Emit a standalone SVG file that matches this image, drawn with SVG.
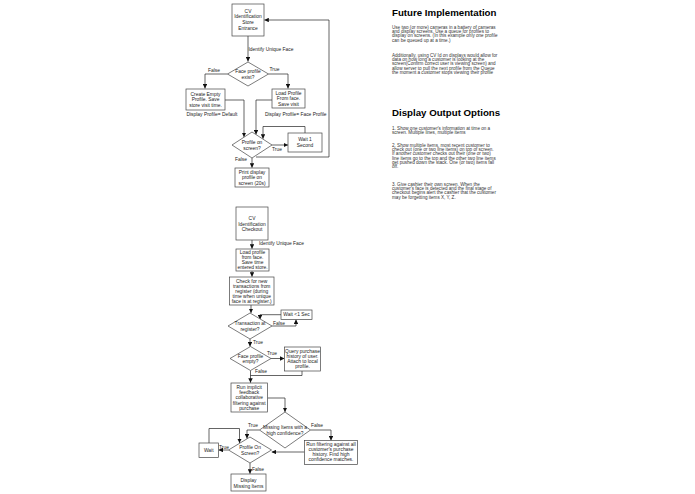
<svg xmlns="http://www.w3.org/2000/svg" width="695" height="494" viewBox="0 0 695 494">
<defs>
<marker id="ah" viewBox="0 0 6 6" refX="6" refY="3" markerWidth="4.5" markerHeight="4.5" orient="auto" markerUnits="userSpaceOnUse">
<path d="M0,0 L6,3 L0,6 Z" fill="#111"/>
</marker>
<style>
.n rect,.n polygon{fill:#fff;stroke:#444;stroke-width:0.7}
.c path{fill:none;stroke:#222;stroke-width:0.7}
.c path.a{marker-end:url(#ah)}
text{font-family:"Liberation Sans",Arial,sans-serif;fill:#222}
.t{font-size:4.9px;text-anchor:middle}
.l{font-size:4.9px}
.lm{font-size:4.9px;text-anchor:middle}
.h{font-size:9.7px;font-weight:bold;fill:#000}
.p{font-size:4.6px;fill:#333}
</style>
</defs>
<rect width="695" height="494" fill="#fff"/>

<g id="connectors" class="c">
<path class="a" d="M248,36 V61.5"/>
<path class="a" d="M227.5,74 H205 V88.5"/>
<path class="a" d="M268.5,74 H288 V88.5"/>
<path class="a" d="M225,100 H244 V137"/>
<path class="a" d="M272,100 H256 V134.5"/>
<path class="a" d="M305,133 V126.5 H263 V138.8"/>
<path class="a" d="M272,145 H288"/>
<path class="a" d="M256,157 H329 V20 H264.3"/>
<path class="a" d="M252,158 V167.7"/>
<path class="a" d="M252,240 V248.7"/>
<path class="a" d="M252,271 V276.7"/>
<path class="a" d="M251,305 V313"/>
<path class="a" d="M272,326 H296 V319.5"/>
<path class="a" d="M281,314.7 H260 V319.5"/>
<path class="a" d="M250,339 V346.5"/>
<path class="a" d="M271,358.5 H284.3"/>
<path d="M302,371 V375.5 H250.5"/>
<path class="a" d="M250.5,370.5 V382.8"/>
<path class="a" d="M267.5,398 H285 V412"/>
<path class="a" d="M310.5,430 H331 V440.5"/>
<path class="a" d="M259.5,430 H247 V438.6"/>
<path class="a" d="M304.5,452 H271.7"/>
<path class="a" d="M228.5,450 H218.5"/>
<path class="a" d="M209,443 V428.5 H239.5 V443"/>
<path class="a" d="M250,463 V473.8"/>
</g>

<g id="labels">
<text class="l" x="248.5" y="50.8">Identify Unique Face</text>
<text class="lm" x="214" y="71.7">False</text>
<text class="lm" x="274.5" y="71.2">True</text>
<text class="l" x="186.5" y="115.7">Display Profile= Default</text>
<text class="l" x="265" y="115.7">Display Profile= Face Profile</text>
<text class="lm" x="277" y="151">True</text>
<text class="lm" x="241" y="161.4">False</text>
<text class="l" x="259" y="245">Identify Unique Face</text>
<text class="l" x="273" y="324.5">False</text>
<text class="l" x="253" y="344.4">True</text>
<text class="l" x="267" y="355">True</text>
<text class="l" x="255" y="372.7">False</text>
<text class="l" x="311" y="426.7">False</text>
<text class="l" x="248" y="427.4">True</text>
<text class="l" x="219" y="448.7">True</text>
<text class="l" x="252" y="471">False</text>
</g>

<g id="n-entrance" class="n">
<rect x="232" y="4" width="32" height="32"/>
<text class="t" x="248" y="12.7">CV</text>
<text class="t" x="248" y="18.3">Identification</text>
<text class="t" x="248" y="23.9">Store</text>
<text class="t" x="248" y="29.5">Entrance</text>
</g>
<g id="n-face-exist" class="n">
<polygon points="248,62 268.5,74 248,86 227.5,74"/>
<text class="t" x="248" y="72.5">Face profile</text>
<text class="t" x="248" y="78.8">exist?</text>
</g>
<g id="n-create-empty" class="n">
<rect x="186" y="89" width="39" height="21"/>
<text class="t" x="205.5" y="95.6">Create Empty</text>
<text class="t" x="205.5" y="101.4">Profile. Save</text>
<text class="t" x="205.5" y="107.2">store visit time.</text>
</g>
<g id="n-load-profile" class="n">
<rect x="272" y="89" width="33" height="19"/>
<text class="t" x="288.5" y="94.9">Load Profile</text>
<text class="t" x="288.5" y="100.2">From face.</text>
<text class="t" x="288.5" y="105.5">Save visit</text>
</g>
<g id="n-profile-on-screen" class="n">
<polygon points="252,132 272,145 252,158 232,145"/>
<text class="t" x="252" y="143.8">Profile on</text>
<text class="t" x="252" y="149.5">screen?</text>
</g>
<g id="n-wait-1" class="n">
<rect x="288" y="133" width="34" height="19"/>
<text class="t" x="305" y="141.2">Wait 1</text>
<text class="t" x="305" y="147.2">Second</text>
</g>
<g id="n-print" class="n">
<rect x="235" y="168" width="34" height="19"/>
<text class="t" x="252" y="173.7">Print display</text>
<text class="t" x="252" y="179.2">profile on</text>
<text class="t" x="252" y="184.7">screen (20s)</text>
</g>

<g id="n-checkout" class="n">
<rect x="236" y="207" width="32" height="33"/>
<text class="t" x="252" y="219.7">CV</text>
<text class="t" x="252" y="225.5">Identification</text>
<text class="t" x="252" y="231.3">Checkout</text>
</g>
<g id="n-load-profile-2" class="n">
<rect x="236" y="249" width="33" height="22"/>
<text class="t" x="252.5" y="253.6">Load profile</text>
<text class="t" x="252.5" y="258.7">from face.</text>
<text class="t" x="252.5" y="263.8">Save time</text>
<text class="t" x="252.5" y="268.9">entered store.</text>
</g>
<g id="n-check" class="n">
<rect x="229.5" y="277" width="44.5" height="28"/>
<text class="t" x="251.7" y="282.9">Check for new</text>
<text class="t" x="251.7" y="288">transactions from</text>
<text class="t" x="251.7" y="293.1">register (during</text>
<text class="t" x="251.7" y="298.2">time when unique</text>
<text class="t" x="251.7" y="303.3">face is at register.)</text>
</g>
<g id="n-transaction" class="n">
<polygon points="250,313 272,326 250,339 228,326"/>
<text class="t" x="250" y="325.2">Transaction at</text>
<text class="t" x="250" y="331.2">register?</text>
</g>
<g id="n-wait-sec" class="n">
<rect x="281" y="310" width="31" height="9.5"/>
<text class="t" x="296.5" y="316.4">Wait &lt;1 Sec</text>
</g>
<g id="n-face-empty" class="n">
<polygon points="250.5,346.5 271,358.5 250.5,370.5 230,358.5"/>
<text class="t" x="250.5" y="357.7">Face profile</text>
<text class="t" x="250.5" y="363.4">empty?</text>
</g>
<g id="n-query" class="n">
<rect x="284.5" y="347" width="36" height="24"/>
<text class="t" x="302.5" y="352.6">Query purchase</text>
<text class="t" x="302.5" y="357.7">history of user.</text>
<text class="t" x="302.5" y="362.8">Attach to local</text>
<text class="t" x="302.5" y="367.9">profile.</text>
</g>
<g id="n-run-implicit" class="n">
<rect x="231" y="383" width="36.5" height="29"/>
<text class="t" x="249.2" y="388.6">Run implicit</text>
<text class="t" x="249.2" y="393.9">feedback</text>
<text class="t" x="249.2" y="399.2">collaborative</text>
<text class="t" x="249.2" y="404.5">filtering against</text>
<text class="t" x="249.2" y="409.8">purchase</text>
</g>
<g id="n-missing" class="n">
<polygon points="285,412 310.5,430 285,448 259.5,430"/>
<text class="t" x="285" y="429">Missing Items with a</text>
<text class="t" x="285" y="435">high confidence?</text>
</g>
<g id="n-run-filtering" class="n">
<rect x="304.5" y="440.5" width="53" height="24"/>
<text class="t" x="331" y="445.7">Run filtering against all</text>
<text class="t" x="331" y="450.8">customer's purchase</text>
<text class="t" x="331" y="455.9">history. Find high</text>
<text class="t" x="331" y="461">confidence matches.</text>
</g>
<g id="n-profile-on-screen-2" class="n">
<polygon points="250,437 271.5,450 250,463 228.5,450"/>
<text class="t" x="250" y="449.2">Profile On</text>
<text class="t" x="250" y="455">Screen?</text>
</g>
<g id="n-wait" class="n">
<rect x="199" y="443" width="19.5" height="14.5"/>
<text class="t" x="208.7" y="452">Wait</text>
</g>
<g id="n-display-missing" class="n">
<rect x="231" y="474" width="35" height="17"/>
<text class="t" x="248.5" y="481.7">Display</text>
<text class="t" x="248.5" y="487.7">Missing Items</text>
</g>

<g id="notes">
<text class="h" x="392" y="15.5">Future Implementation</text>
<text class="p" x="392" y="28.6">Use two (or more) cameras in a battery of cameras</text>
<text class="p" x="392" y="32.9">and display screens. Use a queue for profiles to</text>
<text class="p" x="392" y="37.2">display on screens. (In this example only one profile</text>
<text class="p" x="392" y="41.5">can be queued up at a time.)</text>
<text class="p" x="392" y="56.6">Additionally, using CV Id on displays would allow for</text>
<text class="p" x="392" y="60.9">data on how long a customer is looking at the</text>
<text class="p" x="392" y="65.2">screen(Confirm correct user is viewing screen) and</text>
<text class="p" x="392" y="69.5">allow server to pull the next profile from the Queue</text>
<text class="p" x="392" y="73.8">the moment a customer stops viewing their profile</text>
<text class="h" x="392" y="115.5">Display Output Options</text>
<text class="p" x="392" y="129.6">1. Show one customer's information at time on a</text>
<text class="p" x="392" y="133.9">screen. Multiple lines, multiple items</text>
<text class="p" x="392" y="146.6">2. Show multiple items, most recent customer to</text>
<text class="p" x="392" y="150.9">check out (one or two line items) on top of screen.</text>
<text class="p" x="392" y="155.2">If another customer checks out their (one or two)</text>
<text class="p" x="392" y="159.5">line items go to the top and the other two line items</text>
<text class="p" x="392" y="163.8">get pushed down the stack. One (or two) items fall</text>
<text class="p" x="392" y="168.1">off.</text>
<text class="p" x="392" y="185.6">3. Give cashier their own screen. When the</text>
<text class="p" x="392" y="189.9">customer's face is detected and the final stage of</text>
<text class="p" x="392" y="194.2">checkout begins alert the cashier that the customer</text>
<text class="p" x="392" y="198.5">may be forgetting items X, Y, Z.</text>
</g>
</svg>
